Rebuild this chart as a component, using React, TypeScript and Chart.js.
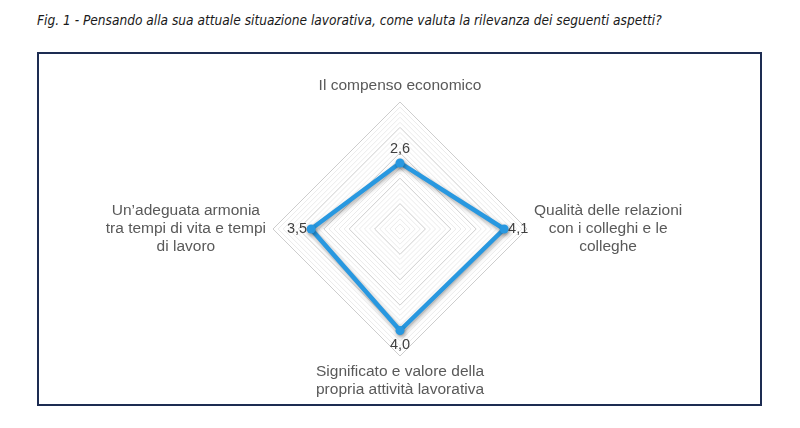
import { useEffect, useRef } from 'react'
import { Chart, registerables } from 'chart.js'

Chart.register(...registerables)

// categories clockwise from the top, each split in lines as in the figure
const categories: string[][] = [
  ['Il compenso economico'],
  ['Qualità delle relazioni', 'con i colleghi e le', 'colleghe'],
  ['Significato e valore della', 'propria attività lavorativa'],
  ['Un’adeguata armonia', 'tra tempi di vita e tempi', 'di lavoro'],
]
const scores = [2.6, 4.1, 4.0, 3.5]
const scaleMin = 0
const scaleMax = 5
const minorStep = 0.2

const FONT = '"Liberation Sans", Arial, sans-serif'
const BLUE = '#2898e0'

const radarLabels = {
  id: 'radarLabels',
  beforeDatasetDraw(chart: any) {
    const ctx = chart.ctx
    ctx.save()
    ctx.shadowColor = 'rgba(0,0,0,0.35)'
    ctx.shadowBlur = 4
    ctx.shadowOffsetX = 1
    ctx.shadowOffsetY = 2
  },
  afterDatasetDraw(chart: any) {
    chart.ctx.restore()
  },
  afterDraw(chart: any) {
    const ctx = chart.ctx
    const scale = chart.scales.r
    const cx = scale.xCenter
    const cy = scale.yCenter
    ctx.save()
    ctx.textBaseline = 'middle'
    ctx.textAlign = 'center'

    // value labels, just outside each point
    ctx.font = '14.5px ' + FONT
    ctx.fillStyle = '#404040'
    scores.forEach((v, i) => {
      const d = scale.getDistanceFromCenterForValue(v)
      const p = scale.getPointPosition(i, d + 14)
      ctx.fillText(v.toFixed(1).replace('.', ','), p.x, p.y)
    })

    // category labels, centred lines
    ctx.font = '15.5px ' + FONT
    ctx.fillStyle = '#595959'
    const lh = 18
    categories.forEach((lines, i) => {
      const p = scale.getPointPosition(i, scale.drawingArea + 7)
      const dx = p.x - cx
      const dy = p.y - cy
      const n = lines.length
      lines.forEach((line, k) => {
        let x = p.x
        let y = p.y
        if (Math.abs(dx) < 1) {
          y = dy < 0 ? p.y - lh / 2 - (n - 1 - k) * lh : p.y + lh / 2 + k * lh
        } else {
          const w = Math.max(...lines.map((l) => ctx.measureText(l).width))
          x = dx > 0 ? p.x + w / 2 : p.x - w / 2
          y = p.y + (k - (n - 1) / 2) * lh
        }
        ctx.fillText(line, x, y)
      })
    })
    ctx.restore()
  },
}

export default function App() {
  const canvasRef = useRef<HTMLCanvasElement>(null)

  useEffect(() => {
    if (!canvasRef.current) return
    const chart = new Chart(canvasRef.current, {
      type: 'radar',
      data: {
        labels: categories.map((c) => c.join(' ')),
        datasets: [
          {
            data: scores,
            borderColor: BLUE,
            backgroundColor: 'transparent',
            borderWidth: 4.5,
            fill: false,
            pointRadius: 4.5,
            pointBackgroundColor: BLUE,
            pointBorderWidth: 0,
          },
        ],
      },
      options: {
        animation: false,
        responsive: false,
        layout: { padding: { left: 234, right: 233, top: 48, bottom: 48 } },
        plugins: { legend: { display: false }, tooltip: { enabled: false } },
        scales: {
          r: {
            min: scaleMin,
            max: scaleMax,
            ticks: { display: false, stepSize: minorStep },
            angleLines: { display: false },
            pointLabels: { display: false },
            grid: {
              lineWidth: 1,
              color: (c: any) => {
                const v = c.tick ? c.tick.value : 0
                return Math.abs(v - Math.round(v)) < 1e-6 ? '#cdcdcd' : '#ebebeb'
              },
            },
          },
        },
      },
      plugins: [radarLabels],
    })
    return () => chart.destroy()
  }, [])

  return (
    <div style={{ position: 'fixed', left: 0, top: 0, width: 800, height: 428, background: '#fff' }}>
      <div
        style={{
          position: 'absolute',
          left: 37,
          top: 12,
          font: 'italic 13.6px/16px "Liberation Sans Narrow", "DejaVu Sans Condensed", sans-serif',
          color: '#1a1a1a',
          whiteSpace: 'nowrap',
        }}
      >
        Fig. 1 - Pensando alla sua attuale situazione lavorativa, come valuta la rilevanza dei seguenti aspetti?
      </div>
      <div
        style={{
          position: 'absolute',
          left: 37,
          top: 52,
          width: 725,
          height: 354,
          boxSizing: 'border-box',
          border: '2px solid #1d2c52',
        }}
      >
        <canvas ref={canvasRef} width={721} height={350} style={{ display: 'block' }} />
      </div>
    </div>
  )
}
